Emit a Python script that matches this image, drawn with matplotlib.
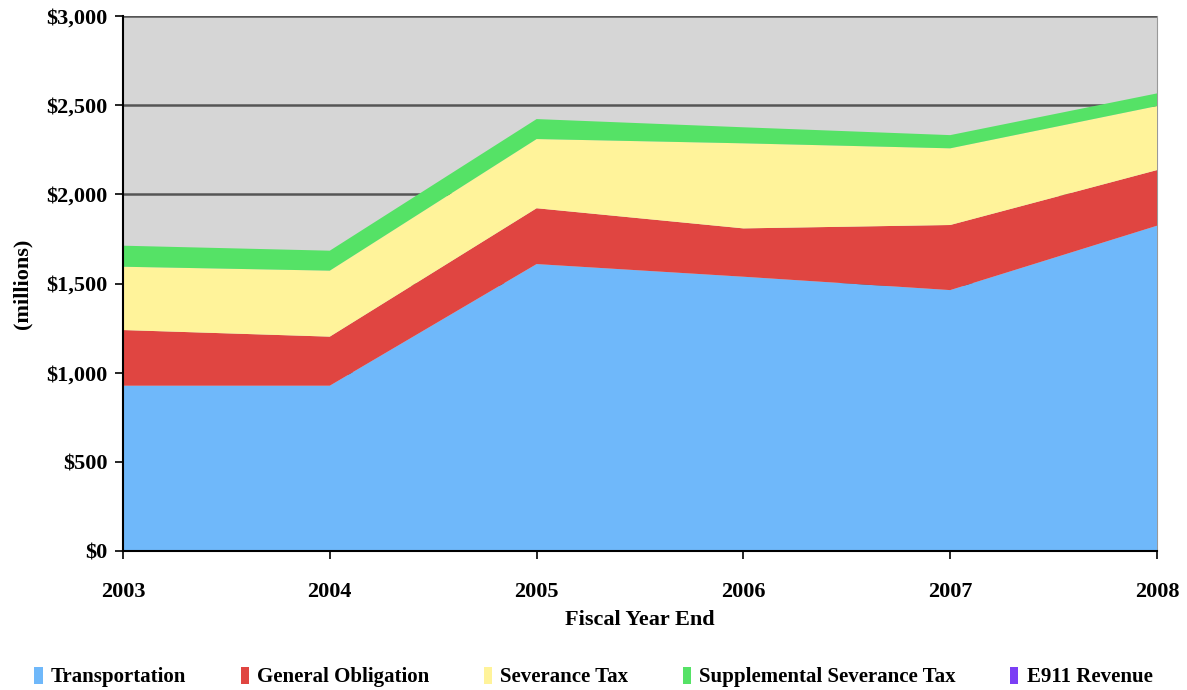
import matplotlib
matplotlib.use("Agg")
import matplotlib.pyplot as plt
from matplotlib.patches import Patch
from matplotlib.ticker import FuncFormatter, MultipleLocator

years = [2003, 2004, 2005, 2006, 2007, 2008]
series_names = ["Transportation", "General Obligation", "Severance Tax",
                "Supplemental Severance Tax", "E911 Revenue"]
transportation = [927, 927, 1609, 1538, 1463, 1824]
general_obligation = [312, 275, 313, 271, 365, 312]
severance_tax = [355, 370, 388, 477, 430, 359]
supplemental_severance = [118, 112, 112, 90, 74, 71]
e911_revenue = [0, 0, 0, 0, 0, 0]

colors = ["#6fb8fa", "#e04541", "#fff39a", "#55e266", "#7b3ff5"]

plt.rcParams['font.family'] = ['Liberation Serif', 'DejaVu Serif']
plt.rcParams['font.weight'] = 'bold'

fig = plt.figure(figsize=(11.87, 6.90), dpi=100)
ax = fig.add_axes([123/1187, 1 - 551/690, (1157-123)/1187, (551-16)/690])
ax.set_facecolor("#d6d6d6")

ax.stackplot(years, transportation, general_obligation, severance_tax,
             supplemental_severance, e911_revenue, colors=colors,
             linewidth=0, zorder=3)

ax.set_xlim(2003, 2008)
ax.set_ylim(0, 3000)
ax.yaxis.set_major_locator(MultipleLocator(500))
ax.yaxis.set_major_formatter(FuncFormatter(lambda v, p: f"${int(v):,}"))
ax.set_xticks(years)
ax.set_xticklabels([str(y) for y in years])

ax.grid(axis='y', color='#555555', linewidth=1.8, zorder=1)
ax.grid(axis='x', visible=False)
ax.set_axisbelow(True)

ax.spines['top'].set_visible(False)
ax.spines['right'].set_color('#999999')
ax.spines['left'].set_color('black')
ax.spines['bottom'].set_color('black')
ax.spines['left'].set_linewidth(1.5)
ax.spines['bottom'].set_linewidth(1.5)
ax.spines['left'].set_zorder(5)
ax.spines['bottom'].set_zorder(5)

ax.tick_params(axis='y', direction='out', length=6, width=1.2, labelsize=16, pad=5)
ax.tick_params(axis='x', direction='out', length=6, width=1.2, labelsize=16, pad=16)
for lab in ax.get_xticklabels() + ax.get_yticklabels():
    lab.set_fontweight('bold')

ax.set_xlabel("Fiscal Year End", fontsize=16, fontweight='bold', labelpad=6)
ax.set_ylabel("(millions)", fontsize=16, fontweight='bold', labelpad=10)

handles = [Patch(facecolor=c, edgecolor='none') for c in colors]
leg = fig.legend(handles, series_names, loc='center', ncol=5,
                 bbox_to_anchor=(0.5, 13/690), frameon=False,
                 prop={'size': 15, 'weight': 'bold'},
                 handlelength=0.4, handleheight=0.9, handletextpad=0.4,
                 columnspacing=2.6)

fig.savefig("out.png", dpi=100)
